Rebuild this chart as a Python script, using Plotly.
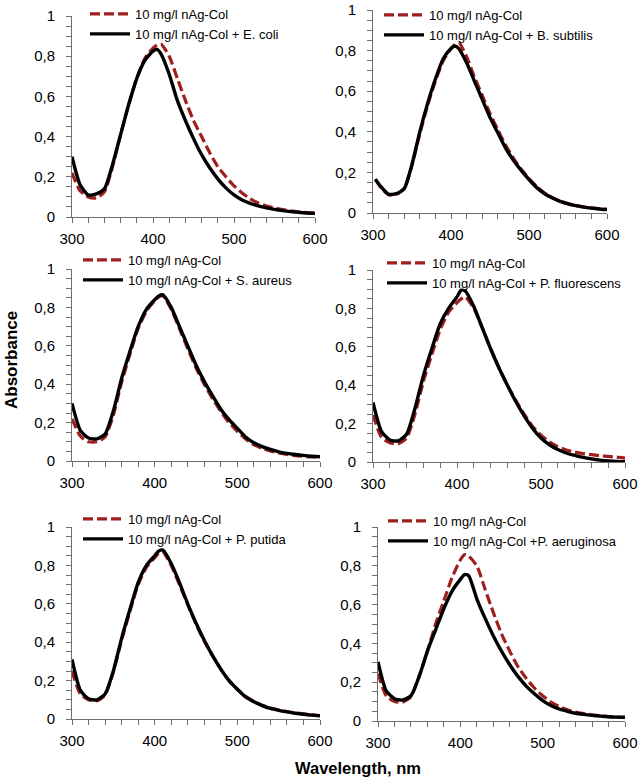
import plotly.graph_objects as go

# ---------------- data ----------------
WAVELENGTH = [300, 310, 320, 330, 340, 350, 360, 370, 380, 390, 400, 405,
              410, 420, 430, 440, 450, 460, 470, 480, 490, 500, 510, 520,
              530, 540, 550, 560, 570, 580, 590, 600]
WAVELENGTH_B = [303] + WAVELENGTH[1:]

CONTROL_LABEL = "10 mg/l nAg-Col"
BACTERIA_LABELS = [
    "10 mg/l nAg-Col + E. coli",
    "10 mg/l nAg-Col + B. subtilis",
    "10 mg/l nAg-Col + S. aureus",
    "10 mg/l nAg-Col + P. fluorescens",
    "10 mg/l nAg-Col + P. putida",
    "10 mg/l nAg-Col +P. aeruginosa",
]

ECOLI_CTRL = [0.22, 0.13, 0.10, 0.095, 0.125, 0.25, 0.41, 0.56, 0.69, 0.79, 0.84, 0.855,
              0.86, 0.80, 0.69, 0.58, 0.48, 0.40, 0.32, 0.25, 0.20, 0.155, 0.12, 0.09,
              0.07, 0.055, 0.045, 0.037, 0.031, 0.026, 0.022, 0.02]
ECOLI = [0.30, 0.16, 0.11, 0.115, 0.14, 0.26, 0.41, 0.56, 0.69, 0.78, 0.825, 0.834,
         0.81, 0.71, 0.58, 0.48, 0.39, 0.31, 0.245, 0.19, 0.145, 0.11, 0.085, 0.068,
         0.055, 0.045, 0.038, 0.032, 0.027, 0.023, 0.02, 0.018]

BSUB_CTRL = [0.165, 0.125, 0.09, 0.092, 0.12, 0.235, 0.39, 0.53, 0.65, 0.75, 0.81, 0.83,
             0.84, 0.77, 0.67, 0.58, 0.49, 0.41, 0.335, 0.27, 0.215, 0.17, 0.13, 0.098,
             0.076, 0.058, 0.046, 0.037, 0.03, 0.025, 0.021, 0.018]
BSUB = [0.167, 0.13, 0.092, 0.095, 0.12, 0.24, 0.40, 0.54, 0.66, 0.76, 0.81, 0.823,
        0.81, 0.74, 0.65, 0.56, 0.47, 0.395, 0.32, 0.26, 0.21, 0.165, 0.125, 0.095,
        0.074, 0.057, 0.045, 0.036, 0.029, 0.024, 0.02, 0.017]

SAUR_CTRL = [0.22, 0.13, 0.10, 0.10, 0.125, 0.24, 0.41, 0.555, 0.69, 0.78, 0.835, 0.855,
             0.86, 0.79, 0.69, 0.585, 0.485, 0.40, 0.325, 0.258, 0.20, 0.155, 0.115, 0.085,
             0.066, 0.052, 0.042, 0.034, 0.028, 0.024, 0.021, 0.02]
SAUR = [0.30, 0.16, 0.12, 0.115, 0.14, 0.26, 0.43, 0.57, 0.70, 0.79, 0.84, 0.86,
        0.865, 0.80, 0.70, 0.60, 0.50, 0.415, 0.34, 0.27, 0.215, 0.17, 0.125, 0.095,
        0.075, 0.06, 0.048, 0.04, 0.034, 0.029, 0.025, 0.022]

PFLU_CTRL = [0.245, 0.13, 0.10, 0.095, 0.125, 0.25, 0.42, 0.56, 0.69, 0.78, 0.83, 0.85,
             0.86, 0.80, 0.70, 0.59, 0.49, 0.40, 0.32, 0.25, 0.185, 0.14, 0.105, 0.08,
             0.063, 0.052, 0.044, 0.038, 0.033, 0.029, 0.025, 0.02]
PFLU = [0.31, 0.16, 0.115, 0.11, 0.145, 0.28, 0.45, 0.59, 0.72, 0.80, 0.86, 0.895,
        0.89, 0.81, 0.70, 0.59, 0.49, 0.40, 0.315, 0.24, 0.175, 0.125, 0.09, 0.065,
        0.047, 0.034, 0.024, 0.016, 0.01, 0.006, 0.003, 0.001]

PPUT_CTRL = [0.25, 0.13, 0.10, 0.095, 0.125, 0.245, 0.41, 0.56, 0.70, 0.79, 0.84, 0.865,
             0.87, 0.80, 0.70, 0.595, 0.495, 0.405, 0.33, 0.26, 0.20, 0.155, 0.118, 0.092,
             0.072, 0.057, 0.047, 0.039, 0.032, 0.027, 0.022, 0.018]
PPUT = [0.31, 0.15, 0.105, 0.10, 0.13, 0.25, 0.42, 0.57, 0.71, 0.80, 0.85, 0.875,
        0.88, 0.81, 0.71, 0.60, 0.50, 0.41, 0.33, 0.26, 0.20, 0.155, 0.115, 0.09,
        0.07, 0.055, 0.045, 0.037, 0.03, 0.025, 0.02, 0.017]

PAER_CTRL = [0.245, 0.13, 0.10, 0.097, 0.125, 0.23, 0.36, 0.50, 0.62, 0.74, 0.83, 0.857,
             0.85, 0.80, 0.68, 0.56, 0.45, 0.36, 0.28, 0.22, 0.17, 0.13, 0.097, 0.075,
             0.058, 0.046, 0.038, 0.032, 0.027, 0.023, 0.02, 0.018]
PAER = [0.305, 0.155, 0.115, 0.108, 0.13, 0.23, 0.36, 0.47, 0.58, 0.67, 0.73, 0.755,
        0.75, 0.63, 0.53, 0.44, 0.36, 0.29, 0.23, 0.18, 0.14, 0.105, 0.08, 0.062,
        0.05, 0.04, 0.034, 0.029, 0.025, 0.022, 0.02, 0.019]

Y_TICKS = [0, 0.2, 0.4, 0.6, 0.8, 1]
X_TICKS = [300, 400, 500, 600]

# ---------------- layout ----------------
W, H = 641, 782
RED = "#A01E1E"
AXIS = "#6e6e6e"
FONT = "Arial, Liberation Sans, sans-serif"


def fx(px):
    return px / W


def fy(py):
    return 1 - py / H


panels = [
    (WAVELENGTH, ECOLI_CTRL, ECOLI),
    (WAVELENGTH_B, BSUB_CTRL, BSUB),
    (WAVELENGTH, SAUR_CTRL, SAUR),
    (WAVELENGTH, PFLU_CTRL, PFLU),
    (WAVELENGTH, PPUT_CTRL, PPUT),
    (WAVELENGTH, PAER_CTRL, PAER),
]
# plot boxes in pixels: x0, x1, ytop, ybottom
boxes = [(72, 315, 16, 217), (373, 607, 10, 213),
         (72, 320, 269, 461), (373, 625, 270, 462),
         (72, 320, 527, 719), (378, 625, 527, 721)]
# legend text start x, first row center y (pixels)
legpos = [(133, 16), (427, 17), (126, 262), (430, 265), (126, 521), (431, 523)]

fig = go.Figure()
layout = dict(
    width=W, height=H, margin=dict(l=0, r=0, t=0, b=0, pad=0, autoexpand=False),
    paper_bgcolor="white", plot_bgcolor="white",
    separators=", ",
    font=dict(family=FONT, size=15, color="black"),
    showlegend=True,
)

for i, ((wl, ctrl, bact), (x0, x1, yt, yb), (lx, ly)) in enumerate(zip(panels, boxes, legpos)):
    n = "" if i == 0 else str(i + 1)
    leg = "legend" + n
    fig.add_trace(go.Scatter(x=wl, y=ctrl, mode="lines", name=CONTROL_LABEL,
                             line=dict(color=RED, width=3.2, dash="10px,4px", shape="spline", smoothing=0.6),
                             xaxis="x" + n, yaxis="y" + n, legend=leg))
    fig.add_trace(go.Scatter(x=wl, y=bact, mode="lines", name=BACTERIA_LABELS[i],
                             line=dict(color="black", width=3.4, shape="spline", smoothing=0.6),
                             xaxis="x" + n, yaxis="y" + n, legend=leg))
    layout["xaxis" + n] = dict(
        domain=[fx(x0), fx(x1)], anchor="y" + n, range=[300, 600],
        tickvals=X_TICKS, ticks="outside", ticklen=5, tickcolor=AXIS,
        showline=True, linecolor=AXIS, linewidth=1, showgrid=False, zeroline=False,
        minor=dict(dtick=20, tick0=300, ticks="outside", ticklen=5, tickcolor=AXIS, showgrid=False),
        tickfont=dict(size=15, family=FONT), ticklabelstandoff=3, automargin=False,
        ticklabeloverflow="allow",
    )
    layout["yaxis" + n] = dict(
        domain=[fy(yb), fy(yt)], anchor="x" + n, range=[0, 1],
        tickvals=Y_TICKS, ticks="outside", ticklen=5, tickcolor=AXIS,
        showline=True, linecolor=AXIS, linewidth=1, showgrid=False, zeroline=False,
        minor=dict(dtick=0.05, tick0=0, ticks="outside", ticklen=5, tickcolor=AXIS, showgrid=False),
        tickfont=dict(size=15, family=FONT), ticklabelstandoff=8, automargin=False,
        ticklabeloverflow="allow",
    )
    layout[leg] = dict(
        x=fx(lx - 48), y=fy(ly - 17), xanchor="left", yanchor="top",
        bgcolor="rgba(0,0,0,0)", borderwidth=0,
        font=dict(size=13, family=FONT, color="black"),
        itemwidth=40, tracegroupgap=0,
    )

layout["annotations"] = [
    dict(text="<b>Absorbance</b>", x=fx(12), y=fy(360), xref="paper", yref="paper",
         textangle=-90, showarrow=False, font=dict(size=17, family=FONT, color="black"),
         xanchor="center", yanchor="middle"),
    dict(text="<b>Wavelength, nm</b>", x=fx(358), y=fy(768), xref="paper", yref="paper",
         showarrow=False, font=dict(size=16.5, family=FONT, color="black"),
         xanchor="center", yanchor="middle"),
]

fig.update_layout(**layout)
fig.write_html("out.html", config={"displayModeBar": False},
               post_script="document.body.style.margin='0px';")
